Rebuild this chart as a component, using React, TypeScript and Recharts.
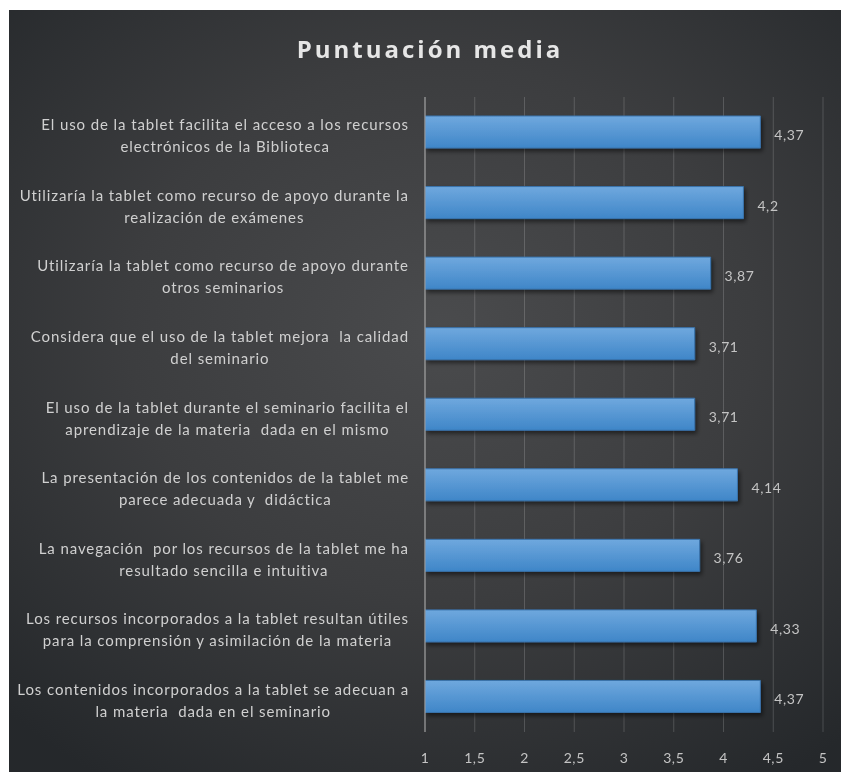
import { Bar, BarChart, CartesianGrid, LabelList, XAxis, YAxis } from "recharts";

const categories = [
  "El uso de la tablet facilita el acceso a los recursos\nelectrónicos de la Biblioteca",
  "Utilizaría la tablet como recurso de apoyo durante la\nrealización de exámenes",
  "Utilizaría la tablet como recurso de apoyo durante\notros seminarios",
  "Considera que el uso de la tablet mejora  la calidad\ndel seminario",
  "El uso de la tablet durante el seminario facilita el\naprendizaje de la materia  dada en el mismo",
  "La presentación de los contenidos de la tablet me\nparece adecuada y  didáctica",
  "La navegación  por los recursos de la tablet me ha\nresultado sencilla e intuitiva",
  "Los recursos incorporados a la tablet resultan útiles\npara la comprensión y asimilación de la materia",
  "Los contenidos incorporados a la tablet se adecuan a\nla materia  dada en el seminario",
];

const scores = [4.37, 4.2, 3.87, 3.71, 3.71, 4.14, 3.76, 4.33, 4.37];

const xTicks = [1, 1.5, 2, 2.5, 3, 3.5, 4, 4.5, 5];

const data = categories.map((name, i) => ({ name, score: scores[i] }));

const LABEL_FONT = "15px Lato";
const LABEL_SPACING = 0.9;

let measureCtx: CanvasRenderingContext2D | null = null;
function textWidth(text: string) {
  if (!measureCtx) {
    measureCtx = document.createElement("canvas").getContext("2d");
  }
  if (!measureCtx) return text.length * 7.5;
  measureCtx.font = LABEL_FONT;
  return measureCtx.measureText(text).width + text.length * LABEL_SPACING;
}

function formatComma(value: number | string) {
  return String(value).replace(".", ",");
}

// two-line label block, right-aligned to the axis, lines centred inside it
function CategoryTick(props: any) {
  const { x, y, payload } = props;
  const lines: string[] = String(payload.value).split("\n");
  const block = Math.max(...lines.map(textWidth));
  const cx = x - 8 - block / 2;
  return (
    <text
      x={cx}
      y={y}
      textAnchor="middle"
      fill="#d0d0d0"
      style={{ font: LABEL_FONT, letterSpacing: LABEL_SPACING, whiteSpace: "pre" }}
    >
      {lines.map((line, i) => (
        <tspan key={i} x={cx} y={y - 2 + i * 22}>
          {line}
        </tspan>
      ))}
    </text>
  );
}

export default function App() {
  return (
    <div
      style={{
        position: "fixed",
        top: 10,
        left: 9,
        width: 832,
        height: 762,
        background:
          "radial-gradient(ellipse 75% 70% at 52% 42%, #4a4b4d 0%, #3c3d3f 50%, #25282b 100%)",
        fontFamily: "Lato, sans-serif",
      }}
    >
      <div
        style={{
          position: "absolute",
          top: 22,
          left: 0,
          width: 842,
          textAlign: "center",
          color: "#e6e6e6",
          fontFamily: "'Open Sans', sans-serif",
          fontWeight: 700,
          fontSize: 24,
          letterSpacing: 3,
        }}
      >
        Puntuación media
      </div>
      <BarChart
        width={832}
        height={762}
        data={data}
        layout="vertical"
        margin={{ top: 87, right: 18, bottom: 10, left: 0 }}
        barCategoryGap={0}
      >
        <defs>
          <linearGradient id="barGrad" x1="0" y1="0" x2="0" y2="1">
            <stop offset="0%" stopColor="#6fa8de" />
            <stop offset="100%" stopColor="#3f86c8" />
          </linearGradient>
          <filter id="barShadow" x="-5%" y="-20%" width="115%" height="160%">
            <feDropShadow dx="2" dy="3" stdDeviation="2" floodColor="#000" floodOpacity="0.5" />
          </filter>
        </defs>
        <CartesianGrid
          horizontal={false}
          stroke="rgba(255,255,255,0.17)"
          strokeWidth={1}
        />
        <XAxis
          type="number"
          domain={[1, 5]}
          ticks={xTicks}
          allowDataOverflow
          axisLine={false}
          tickLine={false}
          tickFormatter={formatComma}
          tick={{ fill: "#c4c4c4", fontSize: 14, fontFamily: "Lato", letterSpacing: 0.6 }}
          height={30}
          dy={13}
        />
        <YAxis
          type="category"
          dataKey="name"
          width={416}
          tickLine={false}
          axisLine={{ stroke: "#a8a8a8", strokeWidth: 1 }}
          tick={<CategoryTick />}
          interval={0}
        />
        <Bar
          dataKey="score"
          barSize={32}
          fill="url(#barGrad)"
          stroke="#3a74ad"
          strokeWidth={1}
          filter="url(#barShadow)"
          isAnimationActive={false}
        >
          <LabelList
            dataKey="score"
            position="right"
            offset={14}
            formatter={(v: any) => formatComma(v)}
            fill="#c4c4c4"
            fontSize={14}
            fontFamily="Lato"
            letterSpacing={0.6}
            dy={3}
          />
        </Bar>
      </BarChart>
    </div>
  );
}
